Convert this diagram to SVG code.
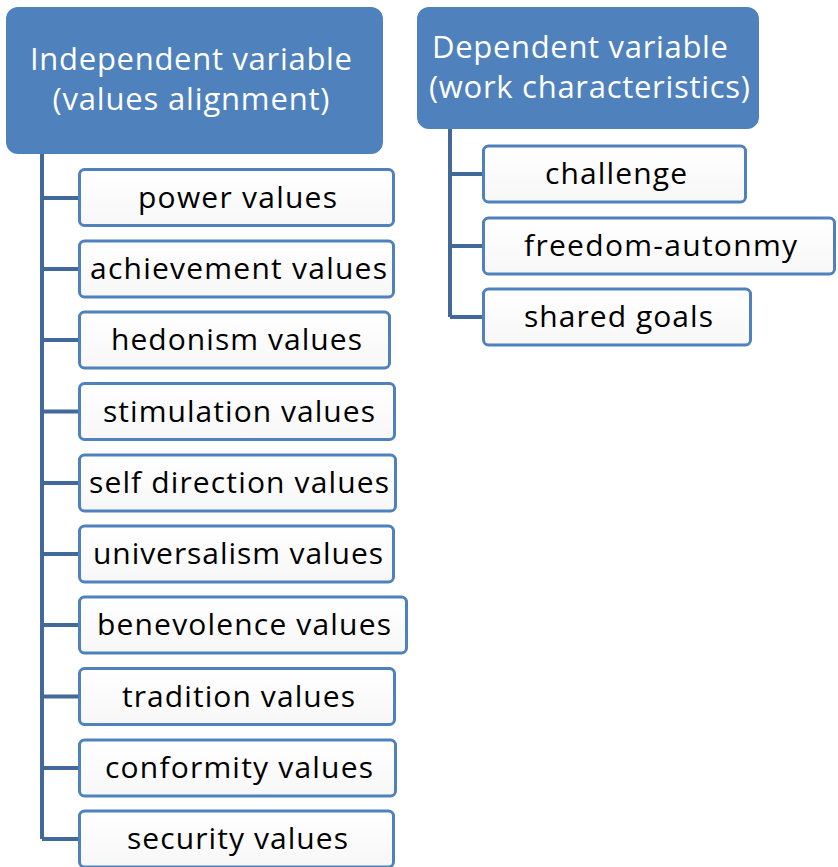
<svg xmlns="http://www.w3.org/2000/svg" width="838" height="867" viewBox="0 0 838 867">
<defs>
<linearGradient id="cg" x1="0" y1="0" x2="0" y2="1">
<stop offset="0" stop-color="#FFFFFF"/>
<stop offset="1" stop-color="#F7F7F7"/>
</linearGradient>
</defs>
<style>
.parent{fill:#4F81BD;stroke:#4F81BD;stroke-width:2}
.ptxt{font-family:"Open Sans","Liberation Sans",sans-serif;font-size:31px;fill:#FFFFFF;text-anchor:middle}
.child{fill:url(#cg);stroke:#4F81BD;stroke-width:3}
.ctxt{font-family:"Open Sans","Liberation Sans",sans-serif;font-size:30px;fill:#000000;text-anchor:middle}
.conn{fill:none;stroke:#41699A;stroke-width:4}
</style>
<g id="connectors">
<path class="conn" d="M42,153 V839 M42,198 H78 M42,269 H78 M42,340 H78 M42,411.5 H78 M42,483 H78 M42,554 H78 M42,625 H78 M42,696.5 H78 M42,768 H78 M42,839 H78"/>
<path class="conn" d="M450,128 V317 M450,174 H483 M450,246 H483 M450,317 H483"/>
</g>
<g id="independent">
<rect class="parent" x="7" y="8" width="375" height="145" rx="11"/>
<text class="ptxt" x="191" y="70" textLength="322" lengthAdjust="spacing">Independent variable</text>
<text class="ptxt" x="191" y="110" textLength="277" lengthAdjust="spacing">(values alignment)</text>
</g>
<g id="dependent">
<rect class="parent" x="418" y="8" width="340" height="120" rx="11"/>
<text class="ptxt" x="580" y="58" textLength="296" lengthAdjust="spacing">Dependent variable</text>
<text class="ptxt" x="589.5" y="98" textLength="321" lengthAdjust="spacing">(work characteristics)</text>
</g>
<g id="power">
<rect class="child" x="79.5" y="169.5" width="314" height="56" rx="5"/>
<text class="ctxt" x="237.5" y="208" textLength="199" lengthAdjust="spacing">power values</text>
</g>
<g id="achievement">
<rect class="child" x="79.5" y="241" width="314" height="56" rx="5"/>
<text class="ctxt" x="238.5" y="279" textLength="297" lengthAdjust="spacing">achievement values</text>
</g>
<g id="hedonism">
<rect class="child" x="79.5" y="312" width="310" height="56" rx="5"/>
<text class="ctxt" x="236.5" y="350" textLength="251" lengthAdjust="spacing">hedonism values</text>
</g>
<g id="stimulation">
<rect class="child" x="79.5" y="383.5" width="315" height="56" rx="5"/>
<text class="ctxt" x="239" y="421.5" textLength="272" lengthAdjust="spacing">stimulation values</text>
</g>
<g id="selfdirection">
<rect class="child" x="79.5" y="455" width="316" height="56" rx="5"/>
<text class="ctxt" x="239" y="493" textLength="300" lengthAdjust="spacing">self direction values</text>
</g>
<g id="universalism">
<rect class="child" x="79.5" y="526" width="314" height="56" rx="5"/>
<text class="ctxt" x="238" y="564" textLength="290" lengthAdjust="spacing">universalism values</text>
</g>
<g id="benevolence">
<rect class="child" x="79.5" y="597" width="327" height="56" rx="5"/>
<text class="ctxt" x="244" y="635" textLength="294" lengthAdjust="spacing">benevolence values</text>
</g>
<g id="tradition">
<rect class="child" x="79.5" y="668.5" width="315" height="56" rx="5"/>
<text class="ctxt" x="238.5" y="706.5" textLength="233" lengthAdjust="spacing">tradition values</text>
</g>
<g id="conformity">
<rect class="child" x="79.5" y="740" width="316" height="56" rx="5"/>
<text class="ctxt" x="239" y="778" textLength="268" lengthAdjust="spacing">conformity values</text>
</g>
<g id="security">
<rect class="child" x="79.5" y="811" width="314" height="56" rx="5"/>
<text class="ctxt" x="237.5" y="849" textLength="221" lengthAdjust="spacing">security values</text>
</g>
<g id="challenge">
<rect class="child" x="483.5" y="146" width="262" height="56" rx="5"/>
<text class="ctxt" x="616" y="184" textLength="142" lengthAdjust="spacing">challenge</text>
</g>
<g id="freedom">
<rect class="child" x="483.5" y="218" width="351" height="56" rx="5"/>
<text class="ctxt" x="660.5" y="256" textLength="273" lengthAdjust="spacing">freedom-autonmy</text>
</g>
<g id="sharedgoals">
<rect class="child" x="483.5" y="289" width="267" height="56" rx="5"/>
<text class="ctxt" x="618.5" y="327" textLength="189" lengthAdjust="spacing">shared goals</text>
</g>
</svg>
